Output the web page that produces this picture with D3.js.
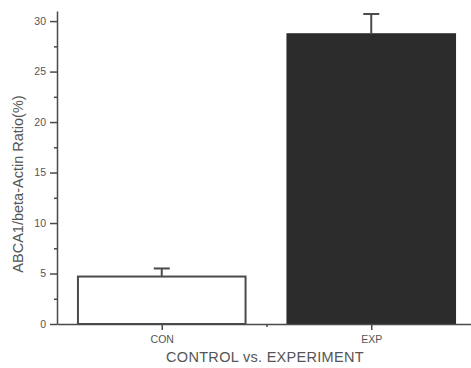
<!DOCTYPE html>
<html>
<head>
  <script type="text/javascript" src="https://cdn.jsdelivr.net/npm/d3@7"></script>
  <style>
    body { margin: 0; background: #fff; }
    text { font-family: "Liberation Sans", Arial, sans-serif; fill: #555; }
  </style>
</head>
<body>
    <div id="viz"></div>
    <script type="text/javascript">

    // data
    var categories = ["CON", "EXP"];
    var values = [4.7, 28.7];
    var errors = [0.8, 2.0];
    var yTicks = [0, 5, 10, 15, 20, 25, 30];

    var W = 471, H = 368;
    // note: "top" is a read-only global in browsers, so use other names
    var plotLeft = 57, plotBottom = 324, plotTop = 11, plotRight = 476;

    var svg = d3.select("#viz").append("svg")
        .attr("width", W)
        .attr("height", H);

    // categories sit at 1 and 2 on a numeric axis, like the original plot
    var x = d3.scaleLinear().domain([0.5, 2.5]).range([plotLeft, plotRight]);
    var y = d3.scaleLinear().domain([0, 31]).range([plotBottom, plotTop]);
    var barW = 0.8;

    var data = categories.map(function(c, i){ return {cat: c, pos: i + 1, v: values[i], e: errors[i]}; });

    // bars
    svg.selectAll("rect.bar").data(data).enter().append("rect")
        .attr("class", "bar")
        .attr("x", function(d){ return x(d.pos - barW / 2); })
        .attr("width", function(d){ return x(d.pos + barW / 2) - x(d.pos - barW / 2); })
        .attr("y", function(d){ return y(d.v); })
        .attr("height", function(d){ return y(0) - y(d.v); })
        .style("fill", function(d, i){ return i == 0 ? "#fff" : "#2c2c2c"; })
        .style("stroke", function(d, i){ return i == 0 ? "#4a4a4a" : "#2c2c2c"; })
        .style("stroke-width", 2);

    // error bars (upper only)
    var capW = 16;
    svg.selectAll("line.err").data(data).enter().append("line")
        .attr("class", "err")
        .attr("x1", function(d){ return x(d.pos); })
        .attr("x2", function(d){ return x(d.pos); })
        .attr("y1", function(d){ return y(d.v); })
        .attr("y2", function(d){ return y(d.v + d.e); })
        .style("stroke", "#4a4a4a").style("stroke-width", 2);
    svg.selectAll("line.cap").data(data).enter().append("line")
        .attr("class", "cap")
        .attr("x1", function(d){ return x(d.pos) - capW / 2; })
        .attr("x2", function(d){ return x(d.pos) + capW / 2; })
        .attr("y1", function(d){ return y(d.v + d.e); })
        .attr("y2", function(d){ return y(d.v + d.e); })
        .style("stroke", "#4a4a4a").style("stroke-width", 2);

    // y axis: major ticks with labels, minor ticks between
    svg.append("g").attr("transform", "translate(" + plotLeft + ",0)")
        .call(d3.axisLeft(y).tickValues(yTicks).tickSize(7).tickPadding(4).tickSizeOuter(0));
    svg.append("g").attr("transform", "translate(" + plotLeft + ",0)")
        .call(d3.axisLeft(y).tickValues(yTicks.map(function(t){ return t + 2.5; })).tickSize(3).tickFormat("").tickSizeOuter(0))
        .select(".domain").remove();

    // x axis: category ticks plus minor tick between
    svg.append("g").attr("transform", "translate(0," + plotBottom + ")")
        .call(d3.axisBottom(x).tickValues([1, 2]).tickSize(6).tickPadding(6).tickSizeOuter(0)
            .tickFormat(function(d){ return categories[d - 1]; }));
    svg.append("g").attr("transform", "translate(0," + plotBottom + ")")
        .call(d3.axisBottom(x).tickValues([1.5]).tickSize(3).tickFormat("").tickSizeOuter(0))
        .select(".domain").remove();

    svg.selectAll(".domain, .tick line").style("stroke", "#4a4a4a").style("stroke-width", 1.5);
    svg.selectAll(".tick text").style("font-size", "10.5px").style("fill", "#555");

    // axis titles
    svg.append("text")
        .attr("transform", "translate(23," + 184 + ") rotate(-90)")
        .attr("text-anchor", "middle")
        .style("font-size", "14.5px")
        .text("ABCA1/beta-Actin Ratio(%)");
    svg.append("text")
        .attr("x", 265).attr("y", 362)
        .attr("text-anchor", "middle")
        .style("font-size", "14.5px")
        .style("letter-spacing", "0.3px")
        .text("CONTROL vs. EXPERIMENT");

    </script>
</body>
</html>
